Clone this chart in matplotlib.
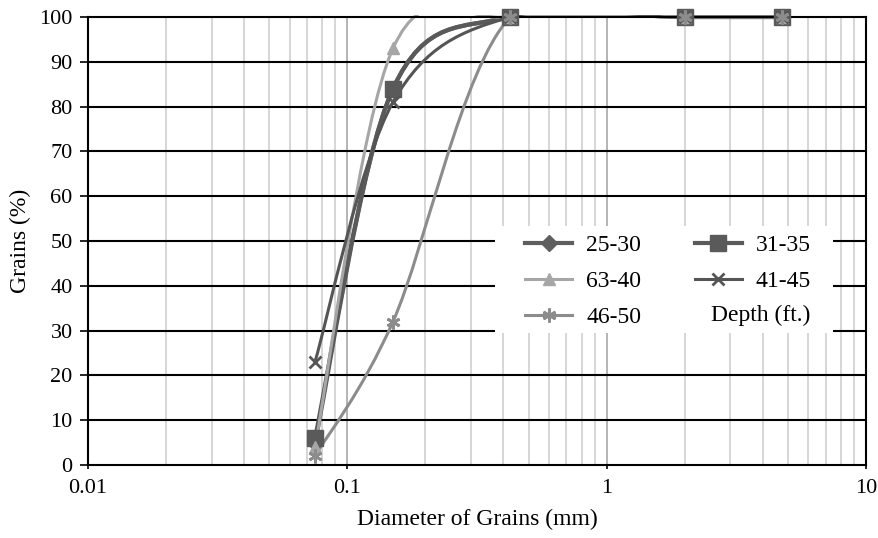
import numpy as np
import matplotlib
matplotlib.use("Agg")
import matplotlib.pyplot as plt
from matplotlib.path import Path
from matplotlib.patches import PathPatch, Rectangle
from matplotlib.lines import Line2D

plt.rcParams['font.family'] = ['Liberation Serif', 'DejaVu Serif']

sieve_mm = [0.075, 0.15, 0.425, 2.0, 4.75]
labels = ["25-30", "31-35", "63-40", "41-45", "46-50"]
pass_25_30 = [5, 84, 100, 100, 100]
pass_31_35 = [6, 84, 100, 100, 100]
pass_63_40 = [4, 93, 100, 100, 100]
pass_41_45 = [23, 81, 100, 100, 100]
pass_46_50 = [2, 32, 100, 100, 100]
series = [pass_25_30, pass_31_35, pass_63_40, pass_41_45, pass_46_50]

colors = ["#5e5e5e", "#5a5a5a", "#a6a6a6", "#555555", "#8c8c8c"]
markers = ["D", "s", "^", "x", (6, 2, 0)]
msizes = [8, 11, 9, 9, 10]
widths = [3.0, 3.0, 2.2, 2.2, 2.2]


def smooth_path(xs, ys):
    # excel-like smoothed line, bezier built in log-x space
    lx = np.log10(xs)
    y = np.array(ys, dtype=float)
    n = len(lx)
    verts = [(xs[0], ys[0])]
    codes = [Path.MOVETO]
    for i in range(n - 1):
        p0 = max(i - 1, 0)
        p3 = min(i + 2, n - 1)
        c1x = lx[i] + (lx[i + 1] - lx[p0]) / 6
        c1y = y[i] + (y[i + 1] - y[p0]) / 6
        c2x = lx[i + 1] - (lx[p3] - lx[i]) / 6
        c2y = y[i + 1] - (y[p3] - y[i]) / 6
        verts += [(10 ** c1x, c1y), (10 ** c2x, c2y), (xs[i + 1], ys[i + 1])]
        codes += [Path.CURVE4] * 3
    return Path(verts, codes)


fig = plt.figure(figsize=(8.79, 5.38), dpi=100)
ax = fig.add_axes([0.1001, 0.1357, 0.8851, 0.8327])
ax.set_xscale("log")
ax.set_xlim(0.01, 10)
ax.set_ylim(0, 100)

for d in [0.1, 1]:
    ax.axvline(d, color="#a8a8a8", lw=1.2, zorder=0)
for dec in [0.01, 0.1, 1]:
    for k in range(2, 10):
        ax.axvline(dec * k, color="#cfcfcf", lw=1.2, zorder=0)
for yv in range(10, 100, 10):
    ax.axhline(yv, color="black", lw=1.5, zorder=0.5)

# white box behind the legend
ax.add_patch(Rectangle((0.523, 0.295), 0.435, 0.238, transform=ax.transAxes,
                       facecolor="white", edgecolor="none", zorder=1))

clip = Rectangle((0.01, -2), 10, 102.4, transform=ax.transData,
                 facecolor="none", edgecolor="none")

handles = []
for vals, lab, c, m, ms, lw in zip(series, labels, colors, markers, msizes, widths):
    mew = 2 if m in ("x", (6, 2, 0)) else 1
    patch = PathPatch(smooth_path(sieve_mm, vals), facecolor="none", edgecolor=c,
                      lw=lw, transform=ax.transData, zorder=2)
    ax.add_patch(patch)
    patch.set_clip_path(clip)
    ax.plot(sieve_mm, vals, linestyle="none", marker=m, color=c, ms=ms,
            markeredgewidth=mew, zorder=3, clip_on=False)
    handles.append(Line2D([], [], color=c, lw=lw, marker=m, ms=ms,
                          markeredgewidth=mew))

order = [0, 2, 4, 1, 3]
leg = ax.legend([handles[i] for i in order], [labels[i] for i in order],
                ncol=2, loc="upper left", bbox_to_anchor=(0.5617, 0.514),
                frameon=False, fontsize=17, handlelength=2.0,
                handletextpad=0.6, columnspacing=2.25,
                labelspacing=0.61, borderpad=0, borderaxespad=0)
leg.set_zorder(5)
fig.text(0.809, 1 - 315 / 538, "Depth (ft.)", fontsize=17, ha="left",
         va="center", zorder=6)

ax.set_xticks([0.01, 0.1, 1, 10])
ax.set_xticklabels(["0.01", "0.1", "1", "10"])
ax.set_yticks(range(0, 101, 10))
ax.tick_params(axis="y", labelsize=16, direction="out", length=6, width=1.2, pad=5)
ax.tick_params(axis="x", labelsize=16, direction="out", length=3, width=1.2, pad=7)
ax.tick_params(axis="x", which="minor", length=0)
for s in ax.spines.values():
    s.set_linewidth(1.5)
    s.set_color("black")

ax.set_xlabel("Diameter of Grains (mm)", fontsize=17, labelpad=8)
ax.set_ylabel("Grains (%)", fontsize=17, labelpad=6)

fig.savefig("out.png", dpi=100)
